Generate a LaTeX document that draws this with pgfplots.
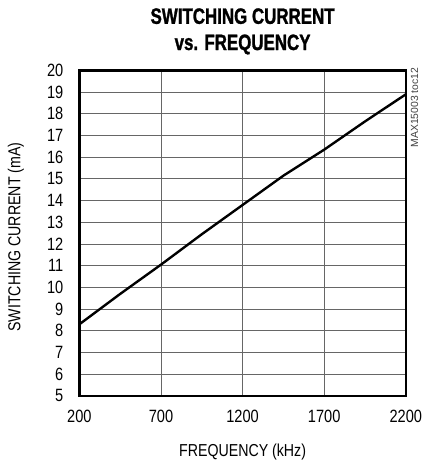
\documentclass[border=0pt]{standalone}
\usepackage{fontspec}
\setmainfont{Liberation Sans}[FakeStretch=0.82]
\newfontfamily\titlefont{Liberation Sans}[FakeStretch=0.76, FakeBold=1.2]
\newfontfamily\notefont{Liberation Sans}
\usepackage{pgfplots}
\pgfplotsset{compat=1.18}
\begin{document}
\begin{tikzpicture}
\begin{axis}[
  at={(0,0)}, anchor=south west,
  scale only axis,
  width=329bp, height=328bp,
  xmin=200, xmax=2200, ymin=5, ymax=20,
  xtick={200,700,1200,1700,2200},
  ytick={5,6,...,20},
  tick style={draw=none},
  grid=major,
  major grid style={gray!80!black, line width=0.9bp},
  axis line style={line width=2.6bp, black},
  /pgf/number format/assume math mode=true,
  /pgf/number format/1000 sep={},
  tick label style={font=\fontsize{18}{18}\selectfont},
  yticklabel style={inner sep=0pt, anchor=east, xshift=-16bp},
  xticklabel style={inner sep=0pt, anchor=north, yshift=-14bp},
  xlabel={FREQUENCY (kHz)},
  ylabel={SWITCHING CURRENT (mA)},
  label style={font=\fontsize{17.5}{17.5}\selectfont},
  xlabel style={at={(axis description cs:0.5,0)}, anchor=base, inner sep=0pt, yshift=-61bp},
  ylabel style={at={(axis description cs:0,0.5)}, anchor=center, inner sep=0pt, yshift=64bp, xshift=-4bp},
  title={SWITCHING CURRENT\\vs. FREQUENCY},
  title style={font=\titlefont\bfseries\fontsize{22.5}{26.5}\selectfont, align=center, at={(axis description cs:0.5,1)}, anchor=south, inner sep=0pt, yshift=10bp},
  clip=false,
]
\addplot[black, line width=2.4bp] coordinates {
(200,8.3) (450,9.7) (700,11.05) (950,12.45) (1200,13.8) (1450,15.15) (1700,16.35) (1950,17.65) (2200,18.9)
};
\node[rotate=90, anchor=north east, inner sep=0pt, font=\notefont\fontsize{10.5}{10.5}\selectfont, text=black!75] at (axis description cs:1,1) [xshift=3bp, yshift=-5bp] {MAX15003 toc12};
\end{axis}
\path[use as bounding box] (-80bp,-61bp) rectangle (346bp,399bp);
\end{tikzpicture}
\end{document}
